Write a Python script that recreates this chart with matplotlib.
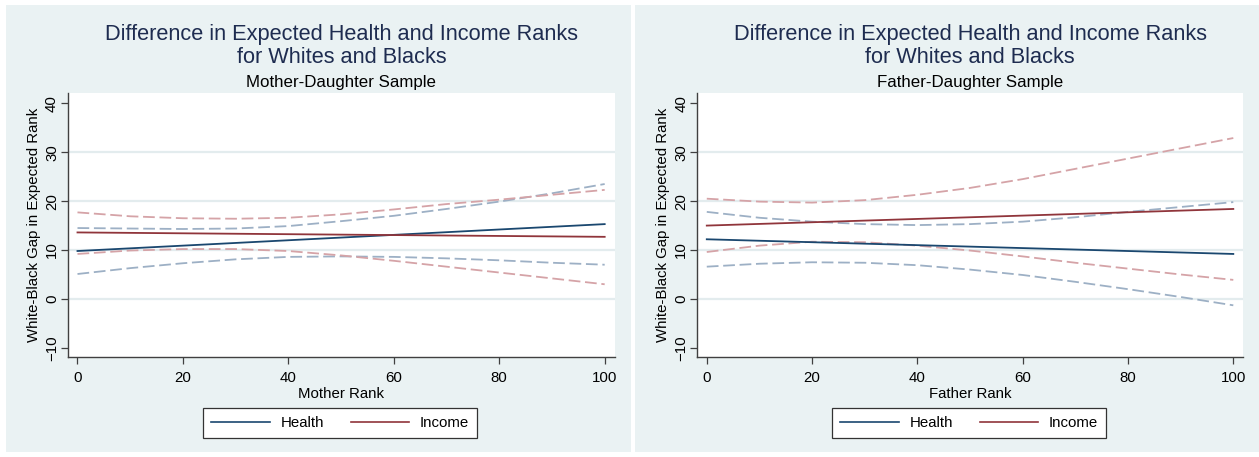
import matplotlib
matplotlib.use("Agg")
import matplotlib.pyplot as plt
from matplotlib.patches import Rectangle
from matplotlib.lines import Line2D

plt.rcParams['font.family'] = ['Liberation Sans', 'DejaVu Sans']

# ---- data ----
x_ci = [0, 10, 20, 30, 40, 50, 60, 70, 80, 90, 100]
x_fit = [0, 100]

# Mother-Daughter sample
md_health = [9.8, 15.3]
md_income = [13.6, 12.7]
md_health_hi = [14.5, 14.4, 14.3, 14.4, 14.9, 15.9, 17.0, 18.4, 19.9, 21.6, 23.5]
md_health_lo = [5.1, 6.3, 7.3, 8.1, 8.6, 8.7, 8.6, 8.3, 7.9, 7.4, 7.0]
md_income_hi = [17.7, 16.9, 16.5, 16.4, 16.6, 17.3, 18.3, 19.4, 20.3, 21.3, 22.3]
md_income_lo = [9.2, 9.9, 10.2, 10.2, 9.8, 8.9, 7.8, 6.6, 5.4, 4.2, 3.0]

# Father-Daughter sample
fd_health = [12.2, 9.2]
fd_income = [15.0, 18.4]
fd_health_hi = [17.8, 16.6, 15.8, 15.3, 15.1, 15.3, 15.8, 16.7, 17.8, 18.8, 19.8]
fd_health_lo = [6.6, 7.2, 7.5, 7.4, 6.9, 6.0, 4.9, 3.5, 2.0, 0.4, -1.3]
fd_income_hi = [20.5, 19.9, 19.7, 20.2, 21.3, 22.7, 24.5, 26.6, 28.7, 30.8, 32.9]
fd_income_lo = [9.6, 10.9, 11.7, 11.6, 10.9, 9.9, 8.7, 7.4, 6.2, 5.0, 3.9]

title = "Difference in Expected Health and Income Ranks\nfor Whites and Blacks"
subtitles = ["Mother-Daughter Sample", "Father-Daughter Sample"]
xlabels = ["Mother Rank", "Father Rank"]
ylabel = "White-Black Gap in Expected Rank"
yticks = [-10, 0, 10, 20, 30, 40]
xticks = [0, 20, 40, 60, 80, 100]
series_names = ["Health", "Income"]

# ---- style ----
W, H = 1259, 457
BG = '#EAF2F3'
GRID = '#E3ECEE'
C_HEALTH = '#1A476F'
C_INCOME = '#90353B'
C_HEALTH_CI = '#9DB0C5'
C_INCOME_CI = '#D5A3A7'
TITLE_C = '#1E2C50'
AX_C = '#404040'

fig = plt.figure(figsize=(W / 100, H / 100), dpi=100, facecolor='white')

def fx(px):
    return px / W

def fy(py):
    return 1 - py / H

panels = [
    dict(bg=(6, 5, 631, 452), ax=(68, 92.7, 614.7, 357)),
    dict(bg=(635, 5, 1259, 452), ax=(697.3, 92.7, 1243.3, 357)),
]
datasets = [
    (md_health, md_income, md_health_hi, md_health_lo, md_income_hi, md_income_lo),
    (fd_health, fd_income, fd_health_hi, fd_health_lo, fd_income_hi, fd_income_lo),
]

dash = (0, (6.5, 2.6))
for i, (p, d) in enumerate(zip(panels, datasets)):
    bx0, by0, bx1, by1 = p['bg']
    fig.patches.append(Rectangle((fx(bx0), fy(by1)), fx(bx1 - bx0), (by1 - by0) / H,
                                 transform=fig.transFigure, facecolor=BG,
                                 edgecolor='none', zorder=-10))
    ax0, ay0, ax1, ay1 = p['ax']
    ax = fig.add_axes([fx(ax0), fy(ay1), fx(ax1 - ax0), (ay1 - ay0) / H])
    ax.set_zorder(1)
    ax.set_facecolor('white')
    h_mid, i_mid, h_hi, h_lo, i_hi, i_lo = d
    for yv in [0, 10, 20, 30]:
        ax.axhline(yv, color=GRID, lw=1.6, zorder=0.5)
    ax.plot(x_ci, h_hi, color=C_HEALTH_CI, lw=1.3, ls=dash, zorder=2)
    ax.plot(x_ci, h_lo, color=C_HEALTH_CI, lw=1.3, ls=dash, zorder=2)
    ax.plot(x_ci, i_hi, color=C_INCOME_CI, lw=1.3, ls=dash, zorder=2)
    ax.plot(x_ci, i_lo, color=C_INCOME_CI, lw=1.3, ls=dash, zorder=2)
    ax.plot(x_fit, h_mid, color=C_HEALTH, lw=1.3, zorder=3)
    ax.plot(x_fit, i_mid, color=C_INCOME, lw=1.3, zorder=3)
    ax.set_xlim(-1.8, 101.9)
    ax.set_ylim(-11.87, 42.17)
    ax.set_xticks(xticks)
    ax.set_yticks(yticks)
    ax.tick_params(axis='both', direction='out', length=5, width=0.9, color=AX_C,
                   labelsize=10.8)
    ax.tick_params(axis='x', pad=5)
    ax.tick_params(axis='y', pad=1.5)
    for lab in ax.get_yticklabels():
        lab.set_rotation(90)
        lab.set_va('center')
    for s in ['top', 'right']:
        ax.spines[s].set_visible(False)
    for s in ['left', 'bottom']:
        ax.spines[s].set_color(AX_C)
        ax.spines[s].set_linewidth(1.0)
    ax.set_xlabel(xlabels[i], fontsize=10.8, labelpad=1.5)
    ax.set_ylabel(ylabel, fontsize=10.8)
    ax.yaxis.set_label_coords(-27.0 / (ax1 - ax0), 0.5)
    cx = (ax0 + ax1) / 2
    fig.text(fx(cx), fy(46), title, ha='center', va='center', fontsize=15.7,
             color=TITLE_C, linespacing=1.12)
    fig.text(fx(cx), fy(82), subtitles[i], ha='center', va='center', fontsize=12.2,
             color='black')
    handles = [Line2D([], [], color=C_HEALTH, lw=1.2),
               Line2D([], [], color=C_INCOME, lw=1.2)]
    leg = fig.legend(handles, series_names, loc='center', ncol=2,
                     bbox_to_anchor=(fx(cx - 1), fy(423)), frameon=True,
                     fancybox=False, fontsize=10.8, handlelength=3.9,
                     handletextpad=0.7, columnspacing=1.8, borderpad=0.55,
                     borderaxespad=0)
    fr = leg.get_frame()
    fr.set_edgecolor('#333333')
    fr.set_linewidth(0.9)
    fr.set_facecolor('white')
    fr.set_alpha(1)

fig.savefig('out.png', dpi=100, facecolor='white')
